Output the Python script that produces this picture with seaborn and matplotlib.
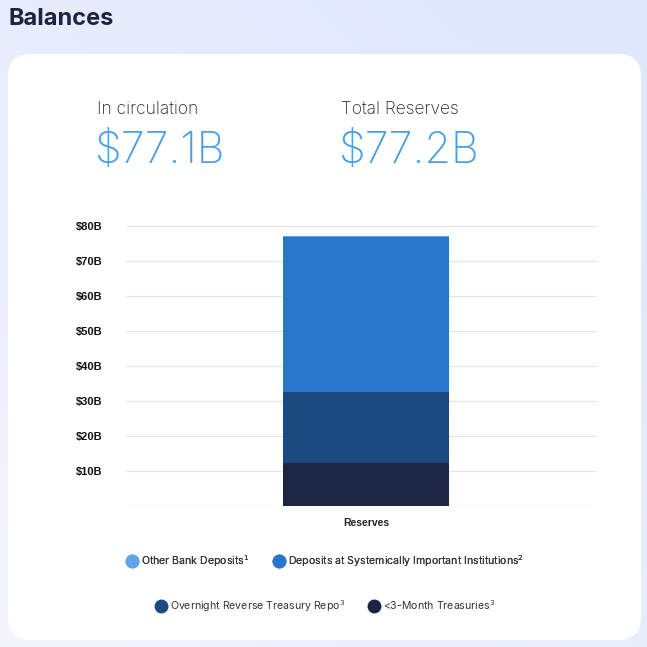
import numpy as np
import pandas as pd
import seaborn as sns
import matplotlib.pyplot as plt
from matplotlib.patches import FancyBboxPatch
from matplotlib.lines import Line2D

# values in $B
categories = ["Reserves"]
treasuries = [12.3]
repo = [20.3]
sii_deposits = [44.2]
other_deposits = [0.4]

series_names = [
    "Other Bank Deposits$^{1}$",
    "Deposits at Systemically Important Institutions$^{2}$",
    "Overnight Reverse Treasury Repo$^{3}$",
    "<3-Month Treasuries$^{3}$",
]
series_colors = ["#5fa6e8", "#2876cc", "#1b4a80", "#1c2642"]
yticks = [10, 20, 30, 40, 50, 60, 70, 80]
ytick_labels = ["$10B", "$20B", "$30B", "$40B", "$50B", "$60B", "$70B", "$80B"]

in_circulation = "$77.1B"
total_reserves = "$77.2B"

sns.set_style("white")
plt.rcParams['font.family'] = ['Liberation Sans', 'DejaVu Sans']

fig = plt.figure(figsize=(6.47, 6.47), dpi=100)

# gradient page background
bg = fig.add_axes([0, 0, 1, 1], zorder=-2)
grad = np.linspace(0, 1, 256)
gx, gy = np.meshgrid(grad, grad)
t = np.clip(0.55 * gx + 0.6 * (1 - gy), 0, 1)[..., None]
c0 = np.array([0.955, 0.958, 0.995])
c1 = np.array([0.875, 0.912, 0.985])
bg.imshow(c0 + (c1 - c0) * t, extent=[0, 1, 0, 1], aspect="auto", origin="upper")
bg.set_xlim(0, 1)
bg.set_ylim(0, 1)
bg.axis("off")

# white card
W = H = 647
card = FancyBboxPatch((8 / W, 1 - 640 / H), (641 - 8) / W, (640 - 54) / H,
                      boxstyle="round,pad=0,rounding_size=0.035",
                      transform=fig.transFigure, facecolor="white",
                      edgecolor="none", zorder=-1)
fig.patches.append(card)

fig.text(8 / W, 1 - 19 / H, "Balances", fontsize=17, fontweight="bold",
         color="#1f2240", va="center", family=["Inter", "DejaVu Sans"])

fig.text(97 / W, 1 - 109 / H, "In circulation", fontsize=12.5, color="#222222",
         va="center", family=["Inter", "DejaVu Sans"], fontweight="light")
fig.text(341 / W, 1 - 109 / H, "Total Reserves", fontsize=12.5, color="#222222",
         va="center", family=["Inter", "DejaVu Sans"], fontweight="light")
fig.text(95 / W, 1 - 151 / H, in_circulation, fontsize=31, color="#4a9fe6",
         va="center", family=["Inter", "DejaVu Sans"], fontweight="light")
fig.text(339 / W, 1 - 151 / H, total_reserves, fontsize=31, color="#4a9fe6",
         va="center", family=["Inter", "DejaVu Sans"], fontweight="light")

ax = fig.add_axes([126 / W, 1 - 506 / H, (597 - 126) / W, (506 - 226) / H])
ax.set_facecolor("none")

df = pd.DataFrame({"category": categories})
layers = [treasuries, repo, sii_deposits, other_deposits]
cum = np.cumsum(np.array(layers), axis=0)
# draw tallest first so the lower segments sit on top
for i in range(len(layers) - 1, -1, -1):
    df["value"] = cum[i]
    sns.barplot(data=df, x="category", y="value", color=series_colors[3 - i],
                width=0.352, saturation=1, ax=ax, zorder=3,
                edgecolor="none", linewidth=0)

ax.set_xlim(-0.51, 0.49)
ax.set_ylim(0, 80)
ax.set_yticks([0] + yticks)
ax.set_yticklabels([""] + ytick_labels, fontsize=8, fontweight="bold", color="#111111")
ax.tick_params(axis="y", length=0, pad=17)
ax.tick_params(axis="x", length=0, pad=9, labelsize=7.5, labelcolor="#222222")
for lab in ax.get_xticklabels():
    lab.set_fontweight("semibold")
ax.set_xlabel("")
ax.set_ylabel("")
ax.grid(axis="y", color="#e4e4e4", linewidth=0.9, zorder=0)
for s in ax.spines.values():
    s.set_visible(False)

handles = [Line2D([], [], marker="o", linestyle="none", markersize=10,
                  markerfacecolor=c, markeredgecolor="none") for c in series_colors]
common = dict(loc="center", frameon=False, ncol=2, handletextpad=0.35,
              columnspacing=2.3, labelcolor="#333333", handlelength=1.0,
              prop={"family": ["Inter", "DejaVu Sans"], "size": 7.6})
leg1 = fig.legend(handles[:2], series_names[:2], bbox_to_anchor=(0.503, 1 - 561 / H), **common)
fig.add_artist(leg1)
fig.legend(handles[2:], series_names[2:], bbox_to_anchor=(0.503, 1 - 606 / H), **common)

fig.savefig("out.png", dpi=100)
